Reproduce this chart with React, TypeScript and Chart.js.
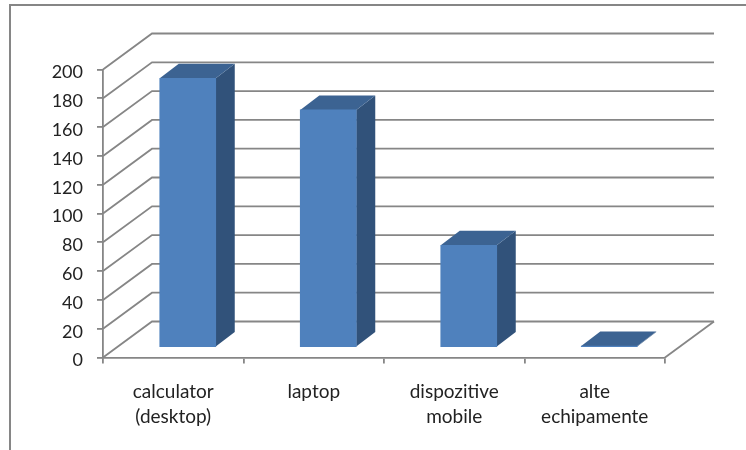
import React, { useEffect, useRef } from "react";
import { Chart, registerables } from "chart.js";

Chart.register(...registerables);

const categories = [["calculator", "(desktop)"], "laptop", ["dispozitive", "mobile"], ["alte", "echipamente"]];
const deviceCounts = [187, 165, 71, 1];
const axisMin = 0;
const axisMax = 200;
const axisStep = 20;

const LINE = "#868686";
const FRONT = "#4f81bd";
const SIDE = "#31527a";
const TOP = "#3c6392";

// Depth of the back wall, and of the bars inside the room.
const WALL_DX = 49;
const WALL_DY = 36;
const BAR_SHIFT_X = 14.5;
const BAR_SHIFT_Y = 10;
const BAR_DX = 19;
const BAR_DY = 14.5;

const box3d = {
  id: "box3d",
  beforeDraw(chart: any) {
    // Outer frame: only its top and left edges fall inside the canvas.
    const { ctx, width, height } = chart;
    ctx.save();
    ctx.strokeStyle = LINE;
    ctx.lineWidth = 2;
    ctx.beginPath();
    ctx.moveTo(10, height);
    ctx.lineTo(10, 5);
    ctx.lineTo(width, 5);
    ctx.stroke();
    ctx.restore();
  },
  beforeDatasetsDraw(chart: any) {
    const { ctx, scales } = chart;
    const { left, right } = chart.chartArea;
    const yScale = scales.y;
    ctx.save();

    // Wall gridlines: a diagonal on the side wall, then a run along the back.
    ctx.strokeStyle = LINE;
    ctx.lineWidth = 1.8;
    for (const tick of yScale.ticks) {
      const y = yScale.getPixelForValue(tick.value);
      ctx.beginPath();
      ctx.moveTo(left, y);
      ctx.lineTo(left + WALL_DX, y - WALL_DY);
      ctx.lineTo(right + WALL_DX, y - WALL_DY);
      ctx.stroke();
    }

    // Right edge of the floor.
    const floor = yScale.getPixelForValue(axisMin);
    ctx.beginPath();
    ctx.moveTo(right, floor);
    ctx.lineTo(right + WALL_DX, floor - WALL_DY);
    ctx.stroke();

    // Side and top faces of each bar, then the shift for the front faces.
    ctx.translate(BAR_SHIFT_X, -BAR_SHIFT_Y);
    for (const bar of chart.getDatasetMeta(0).data) {
      const x0 = bar.x - bar.width / 2;
      const x1 = bar.x + bar.width / 2;
      ctx.fillStyle = SIDE;
      ctx.beginPath();
      ctx.moveTo(x1, bar.y);
      ctx.lineTo(x1 + BAR_DX, bar.y - BAR_DY);
      ctx.lineTo(x1 + BAR_DX, bar.base - BAR_DY);
      ctx.lineTo(x1, bar.base);
      ctx.closePath();
      ctx.fill();
      ctx.fillStyle = TOP;
      ctx.beginPath();
      ctx.moveTo(x0, bar.y);
      ctx.lineTo(x0 + BAR_DX, bar.y - BAR_DY);
      ctx.lineTo(x1 + BAR_DX, bar.y - BAR_DY);
      ctx.lineTo(x1, bar.y);
      ctx.closePath();
      ctx.fill();
    }
  },
  afterDatasetsDraw(chart: any) {
    chart.ctx.restore();
  },
};

export default function App() {
  const canvasRef = useRef<HTMLCanvasElement>(null);

  useEffect(() => {
    // Plain glyph shaping, so "ti" stays two separate letters.
    (canvasRef.current!.getContext("2d") as any).textRendering = "optimizeSpeed";
    const chart = new Chart(canvasRef.current!, {
      type: "bar",
      data: {
        labels: categories,
        datasets: [{ data: deviceCounts, backgroundColor: FRONT, barThickness: 56 }],
      },
      options: {
        animation: false,
        responsive: false,
        layout: { padding: { left: 40, right: 81, top: 69.5, bottom: 0 } },
        plugins: { legend: { display: false }, tooltip: { enabled: false } },
        scales: {
          x: {
            afterFit: (s: any) => { s.height = 92.5; },
            border: { color: LINE, width: 1.8 },
            grid: { color: LINE, lineWidth: 1.8, drawOnChartArea: false, tickLength: 6, offset: true },
            ticks: {
              color: "#222222",
              padding: 15,
              maxRotation: 0,
              autoSkip: false,
              font: { family: "Lato", size: 19, lineHeight: 1.36 },
            },
          },
          y: {
            min: axisMin,
            max: axisMax,
            afterFit: (s: any) => { s.width = 63; },
            border: { color: LINE, width: 1.8 },
            grid: { color: LINE, lineWidth: 1.8, drawOnChartArea: false, tickLength: 6 },
            ticks: {
              stepSize: axisStep,
              color: "#222222",
              padding: 14,
              labelOffset: 3,
              font: { family: "Lato", size: 18 },
            },
          },
        },
      },
      plugins: [box3d],
    } as any);
    return () => chart.destroy();
  }, []);

  return (
    <canvas
      ref={canvasRef}
      width={746}
      height={450}
      style={{ position: "absolute", left: 0, top: 0, width: 746, height: 450 }}
    />
  );
}
